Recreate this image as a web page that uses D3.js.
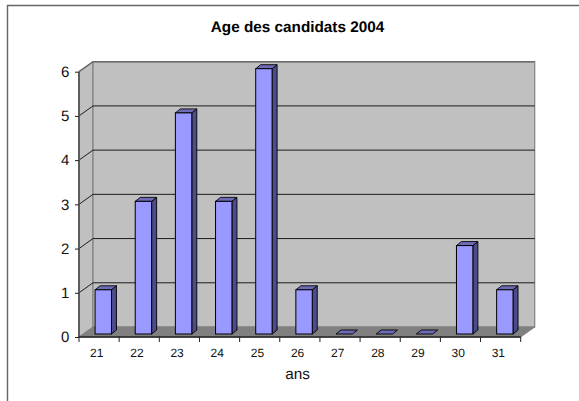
<!DOCTYPE html>
<html><head><meta charset="utf-8">
<script src="https://cdn.jsdelivr.net/npm/d3@7"></script>
<style>html,body{margin:0;padding:0;background:#fff}svg{display:block;font-family:"Liberation Sans",Arial,sans-serif;text-rendering:geometricPrecision}</style>
</head><body><svg id="c" width="579" height="401"></svg>
<script>
const categories = ["21","22","23","24","25","26","27","28","29","30","31"];
const counts = [1,3,5,3,6,1,0,0,0,2,1];
const yTicks = [0,1,2,3,4,5,6];
const titleText = "Age des candidats 2004";
const xTitle = "ans";

const svg = d3.select("#c");
const x = d3.scaleBand().domain(categories).range([79,520.7]);
const y = d3.scaleLinear().domain([0,6]).range([337,71.7]);
const wallDx = 14, wallDy = -10;      // depth of the 3D box
const barInX = 4.2, barInY = -3;      // bar offset from the front of the floor
const barDx = 5, barDy = -4;          // bar depth
const barW = 16.4;
const x0 = x.range()[0], x1 = x.range()[1];
const poly = p => p.map(d=>d.join(",")).join(" ");

svg.append("path").attr("d","M7.5,401V5.5H579").attr("fill","none").attr("stroke","#666").attr("stroke-width",1.4);

// walls
svg.append("polygon").attr("points",poly([[x0,y(0)],[x0+wallDx,y(0)+wallDy],[x0+wallDx,y(6)+wallDy],[x0,y(6)]])).attr("fill","#c0c0c0").attr("stroke","#808080");
svg.append("rect").attr("x",x0+wallDx).attr("y",y(6)+wallDy).attr("width",x1-x0).attr("height",y(0)-y(6)).attr("fill","#c0c0c0").attr("stroke","#808080").attr("stroke-width",1.2);
svg.append("polygon").attr("points",poly([[x0,y(0)],[x0+wallDx,y(0)+wallDy],[x1+wallDx,y(0)+wallDy],[x1,y(0)]])).attr("fill","#808080").attr("stroke","#808080");

// gridlines
const grid = svg.append("g").attr("fill","none").attr("stroke","#000");
yTicks.filter(t=>t>0).forEach(t=>{
  grid.append("path").attr("d",`M${x0},${y(t)}L${x0+wallDx},${y(t)+wallDy}H${x1+wallDx}`)
    .attr("stroke",t===6?"#6a6a6a":"#1c1c1c").attr("stroke-width",t===6?1.5:1);
});

// bars
const bars = svg.append("g").selectAll("g").data(categories.map((c,i)=>({c,v:counts[i]}))).join("g");
const L = d => x(d.c)+x.bandwidth()/2-barW/2+barInX;
const B = y(0)+barInY;
const T = d => y(d.v)+barInY;
bars.filter(d=>d.v>0).append("polygon").attr("points",d=>poly([[L(d)+barW,T(d)],[L(d)+barW+barDx,T(d)+barDy],[L(d)+barW+barDx,B+barDy],[L(d)+barW,B]])).attr("fill","#4c4c8c").attr("stroke","#000").attr("stroke-width",.9);
bars.append("polygon").attr("points",d=>poly([[L(d),T(d)],[L(d)+barDx,T(d)+barDy],[L(d)+barW+barDx,T(d)+barDy],[L(d)+barW,T(d)]])).attr("fill","#6c6cb8").attr("stroke","#000").attr("stroke-width",.9);
bars.filter(d=>d.v>0).append("rect").attr("x",L).attr("y",T).attr("width",barW).attr("height",d=>B-T(d)).attr("fill","#9999ff").attr("stroke","#000").attr("stroke-width",1);

// axes
const yAxis = d3.axisLeft(y).tickValues(yTicks).tickSize(4).tickPadding(5.7).tickFormat(d3.format("d"));
const gy = svg.append("g").attr("transform",`translate(${x0},0)`).call(yAxis);
gy.selectAll("text").attr("font-size",15).attr("font-family","Liberation Sans").attr("fill","#111");
gy.select(".domain").attr("d",`M0,${y(6)}V${y(0)}`).attr("stroke","#555").attr("stroke-width",1.8);
gy.selectAll("line").attr("stroke","#222");

const xBottom = d3.axisBottom(x).tickSize(0).tickPadding(11.5);
const gx = svg.append("g").attr("transform",`translate(0,${y(0)})`).call(xBottom);
gx.select(".domain").attr("d",`M${x0},0H${x1}`).attr("stroke","#222").attr("stroke-width",1.5);
gx.selectAll(".tick text").attr("font-size",12).attr("font-family","Liberation Sans").attr("fill","#111").attr("dx",-2.3);
gx.selectAll("line.edge").data(x.domain().map(c=>x(c)).concat([x1])).join("line").attr("class","edge")
  .attr("x1",d=>d).attr("x2",d=>d).attr("y1",0).attr("y2",5).attr("stroke","#222");

svg.append("text").attr("x",297.5).attr("y",32.3).attr("text-anchor","middle").attr("font-size",15.3).attr("font-weight","bold").text(titleText);
svg.append("text").attr("x",297.5).attr("y",379).attr("text-anchor","middle").attr("font-size",15.3).attr("fill","#111").text(xTitle);
</script></body></html>
